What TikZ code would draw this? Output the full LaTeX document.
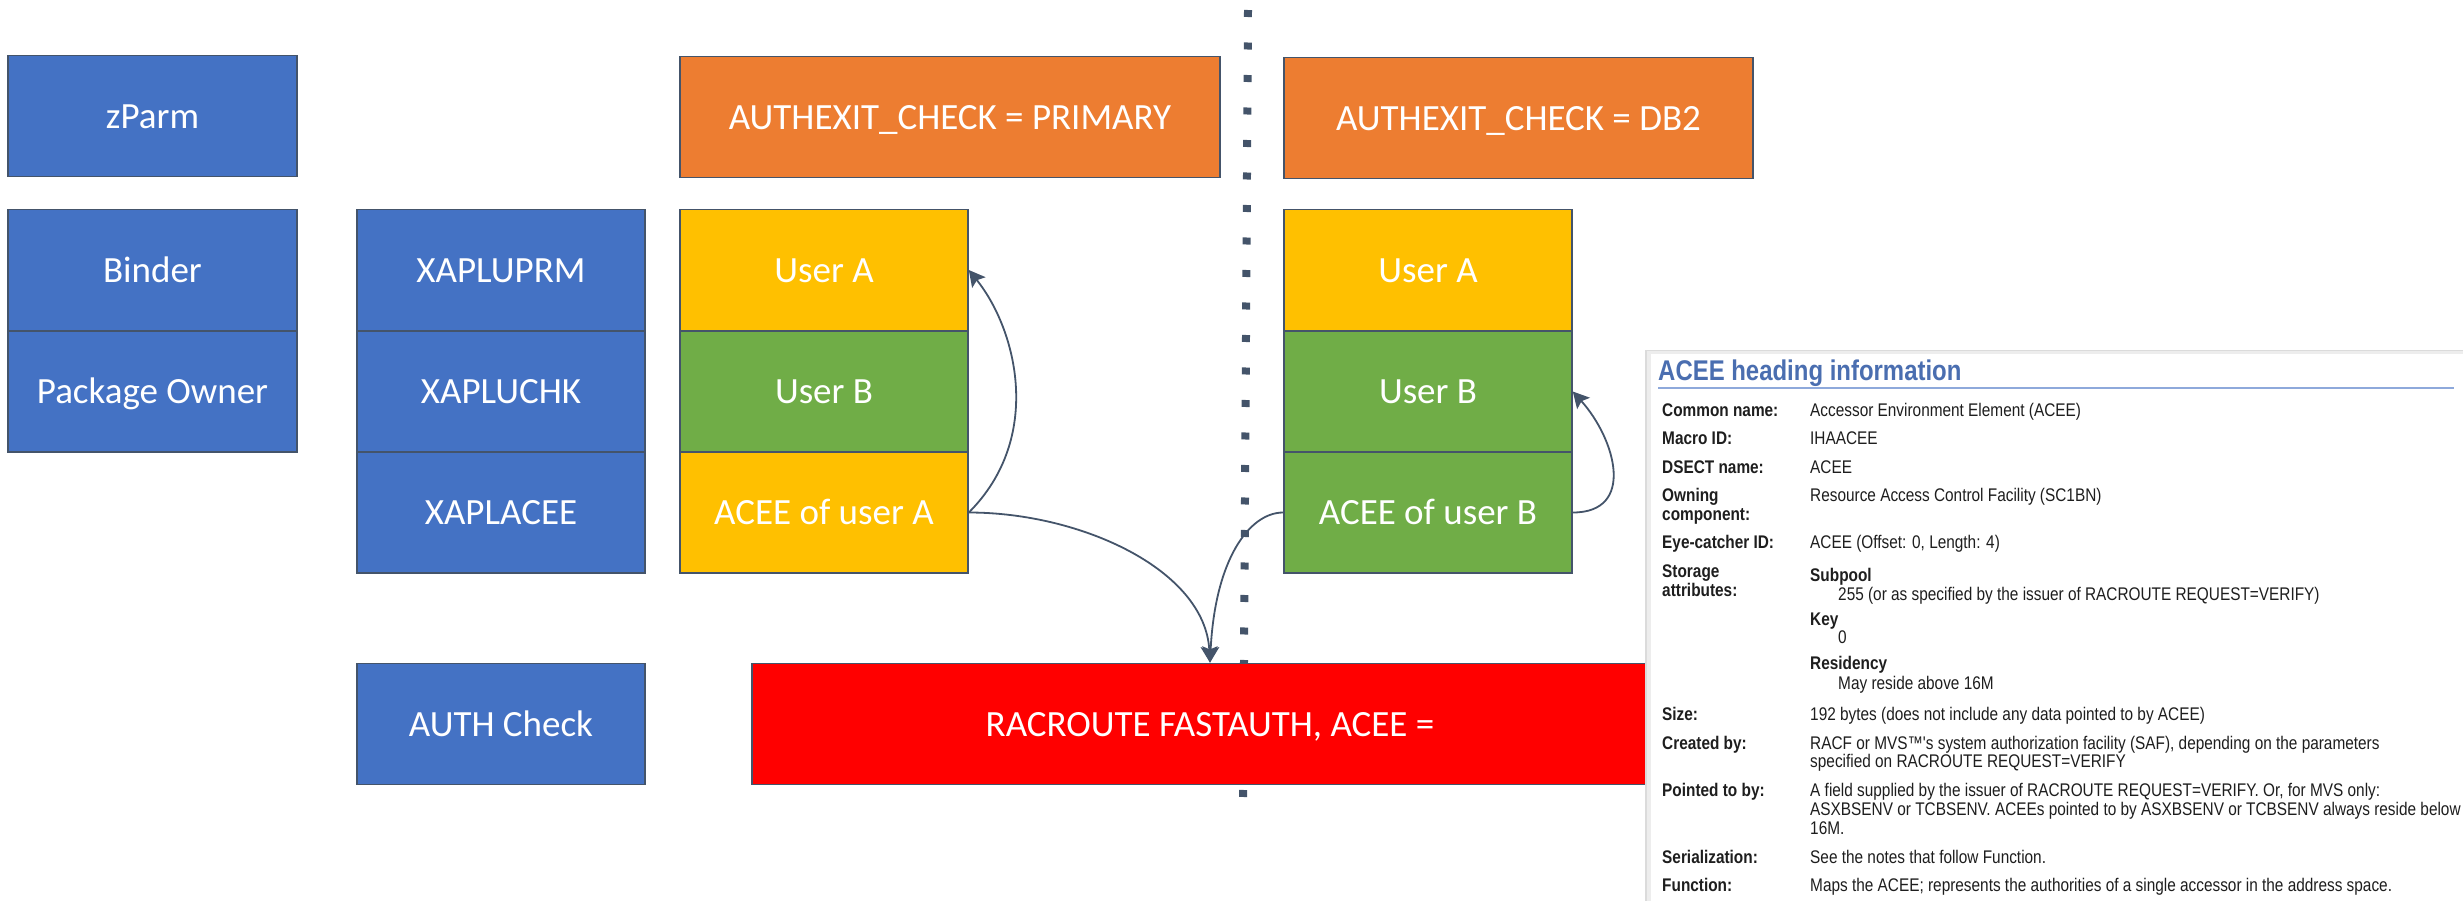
\documentclass[tikz,border=0pt]{standalone}
\usepackage{fontspec}
\setmainfont{Carlito}
\newfontfamily\panelfont[FakeStretch=0.84]{Liberation Sans}
\usetikzlibrary{arrows.meta}
\definecolor{boxblue}{HTML}{4472C4}
\definecolor{boxorange}{HTML}{ED7D31}
\definecolor{boxgold}{HTML}{FFC000}
\definecolor{boxgreen}{HTML}{70AD47}
\definecolor{boxred}{HTML}{FF0000}
\definecolor{edge}{HTML}{44546A}
\definecolor{titleblue}{HTML}{4A6EB0}
\definecolor{rulecol}{HTML}{8EA9DB}
\definecolor{ink}{HTML}{1E1E1E}
\begin{document}
\begin{tikzpicture}[x=1pt,y=-1pt,
  cell/.style={draw=edge, line width=1.6pt, text=white, inner sep=0pt,
    font=\fontsize{37}{44}\selectfont, text height=24pt, text depth=0pt,
    minimum height=121pt, minimum width=288pt},
  conn/.style={draw=edge, line width=1.8pt, -{Stealth[length=16pt,width=17pt,inset=3pt]}},
  ptxt/.style={anchor=base west, inner sep=0pt, text=ink,
    font=\panelfont\fontsize{18.3}{21}\selectfont},
  plab/.style={ptxt, font=\panelfont\bfseries\fontsize{18.3}{21}\selectfont}]
\useasboundingbox (0,0) rectangle (2463,900);

% left column: configuration sources
\node[cell, fill=boxblue, minimum width=289pt] (zparm) at (152.5,116) {zParm};
\node[cell, fill=boxblue, minimum width=289pt] (binder) at (152.5,270) {Binder};
\node[cell, fill=boxblue, minimum width=289pt] (pkgown) at (152.5,391.5) {Package Owner};

% exit parameter list fields
\node[cell, fill=boxblue] (xuprm) at (501,270) {XAPLUPRM};
\node[cell, fill=boxblue] (xuchk) at (501,391.5) {XAPLUCHK};
\node[cell, fill=boxblue] (xacee) at (501,512.5) {XAPLACEE};
\node[cell, fill=boxblue] (authck) at (501,724) {AUTH Check};

% divider between the two settings
\coordinate (divtop) at (1248,10);
\coordinate (divbot) at (1243,822);
\draw[edge, line width=8pt, dash pattern=on 7pt off 25.5pt] (divtop) -- (divbot);

% AUTHEXIT_CHECK = PRIMARY
\node[cell, fill=boxorange, minimum width=540pt] (primary) at (950,117) {AUTHEXIT\_CHECK = PRIMARY};
\node[cell, fill=boxgold] (userAl) at (824,270) {User A};
\node[cell, fill=boxgreen] (userBl) at (824,391.5) {User B};
\node[cell, fill=boxgold] (aceeA) at (824,512.5) {ACEE of user A};

% AUTHEXIT_CHECK = DB2
\node[cell, fill=boxorange, minimum width=469pt] (db2) at (1518.5,118) {AUTHEXIT\_CHECK = DB2};
\node[cell, fill=boxgold] (userAr) at (1428,270) {User A};
\node[cell, fill=boxgreen] (userBr) at (1428,391.5) {User B};
\node[cell, fill=boxgreen] (aceeB) at (1428,512.5) {ACEE of user B};

% RACROUTE call
\node[cell, fill=boxred, minimum width=916pt] (racroute) at (1210,724) {RACROUTE FASTAUTH, ACEE =};

% which ACEE is passed
\draw[conn] (aceeA.east) .. controls +(75,-75) and +(48,60) .. (userAl.east);
\draw[conn] (aceeA.east) .. controls +(112,0) and +(-5,-93) .. (racroute.north);
\draw[conn] (aceeB.west) .. controls +(-34,0) and +(5,-103) .. (racroute.north);
\draw[conn] (aceeB.east) .. controls +(63,0) and +(43,48) .. (userBr.east);

% ACEE reference panel
\fill[black!14] (1645,350) rectangle (2470,910);
\fill[black!7] (1647,351) rectangle (2470,910);
\fill[white] (1651,354) rectangle (2470,910);
\node[anchor=base west, inner sep=0pt, text=titleblue,
  font=\panelfont\bfseries\fontsize{28.5}{32}\selectfont] (ptitle) at (1658,380) {ACEE heading information};
\coordinate (rulel) at (1658,388);
\coordinate (ruler) at (2454,388);
\draw[rulecol, line width=2.5pt] (rulel) -- (ruler);

\node[plab] (l1) at (1662,416) {Common name:};
\node[ptxt] (v1) at (1810,416) {Accessor Environment Element (ACEE)};
\node[plab] (l2) at (1662,444) {Macro ID:};
\node[ptxt] (v2) at (1810,444) {IHAACEE};
\node[plab] (l3) at (1662,473) {DSECT name:};
\node[ptxt] (v3) at (1810,473) {ACEE};
\node[plab] (l4a) at (1662,501) {Owning};
\node[plab] (l4b) at (1662,520) {component:};
\node[ptxt] (v4) at (1810,501) {Resource Access Control Facility (SC1BN)};
\node[plab] (l5) at (1662,548) {Eye-catcher ID:};
\node[ptxt] (v5) at (1810,548) {ACEE (Offset: 0, Length: 4)};
\node[plab] (l6a) at (1662,577) {Storage};
\node[plab] (l6b) at (1662,596) {attributes:};
\node[plab] (s1) at (1810,581) {Subpool};
\node[ptxt] (s1v) at (1838,600) {255 (or as specified by the issuer of RACROUTE REQUEST=VERIFY)};
\node[plab] (s2) at (1810,625) {Key};
\node[ptxt] (s2v) at (1838,643) {0};
\node[plab] (s3) at (1810,669) {Residency};
\node[ptxt] (s3v) at (1838,689) {May reside above 16M};
\node[plab] (l7) at (1662,720) {Size:};
\node[ptxt] (v7) at (1810,720) {192 bytes (does not include any data pointed to by ACEE)};
\node[plab] (l8) at (1662,749) {Created by:};
\node[ptxt] (v8a) at (1810,749) {RACF or MVS™'s system authorization facility (SAF), depending on the parameters};
\node[ptxt] (v8b) at (1810,767) {specified on RACROUTE REQUEST=VERIFY};
\node[plab] (l9) at (1662,796) {Pointed to by:};
\node[ptxt] (v9a) at (1810,796) {A field supplied by the issuer of RACROUTE REQUEST=VERIFY. Or, for MVS only:};
\node[ptxt] (v9b) at (1810,815) {ASXBSENV or TCBSENV. ACEEs pointed to by ASXBSENV or TCBSENV always reside below};
\node[ptxt] (v9c) at (1810,834) {16M.};
\node[plab] (l10) at (1662,863) {Serialization:};
\node[ptxt] (v10) at (1810,863) {See the notes that follow Function.};
\node[plab] (l11) at (1662,891) {Function:};
\node[ptxt] (v11) at (1810,891) {Maps the ACEE; represents the authorities of a single accessor in the address space.};
\end{tikzpicture}
\end{document}
